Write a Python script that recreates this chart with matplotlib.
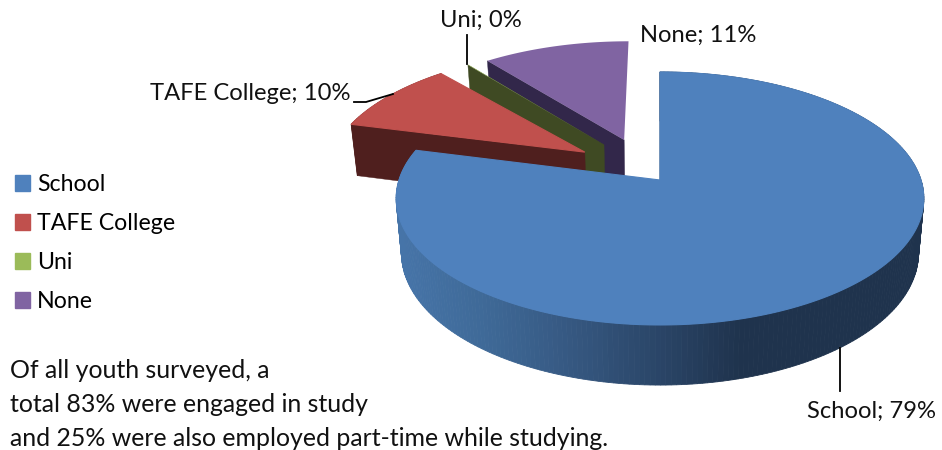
import numpy as np
import matplotlib
matplotlib.use("Agg")
import matplotlib.pyplot as plt
from matplotlib.colors import to_rgb
from matplotlib.patches import Patch

names = ["School", "TAFE College", "Uni", "None"]
shares = [79.0, 9.5, 0.05, 10.75]
# empty share in front of each slice, the drawn Uni slice starts a bit late
gaps = [0.0, 0.0, 0.7, 0.0]
top_colors = ["#4f81bd", "#c0504d", "#9bbb59", "#8064a2"]
wall_colors = ["#1f334d", "#4f1f1e", "#3f4a23", "#32274a"]
explode = [0.0, 0.378, 0.372, 0.369]
explode_dir = [0, 308, 323, 337]
note_lines = [
    "Of all youth surveyed, a",
    "total 83% were engaged in study",
    "and 25% were also employed part-time while studying.",
]

# pie geometry in pixels, fitted to the perspective of the 3d pie
X0, Y0 = 660, 180
RX, RY = 261, 123.8
K = 0.146
DEPTH = 53.8
BOTTOM_SCALE = 0.98

FONT = "Lato"
SIZE = 17.1


def project(u, v, bottom=False):
    w = 1 + K * v
    if bottom:
        return (
            X0 + BOTTOM_SCALE * RX * u / w,
            Y0 + DEPTH / w - BOTTOM_SCALE * RY * v / w,
        )
    return X0 + RX * u / w, Y0 - RY * v / w


def side_color(x):
    # the school wall gets darker from left to right
    stops = [400, 480, 560, 660, 740]
    left = ["#4674a8", "#3f6a98", "#375a84", "#2a4567", "#1f334d"]
    rgb = np.array([to_rgb(c) for c in left])
    return [np.interp(x, stops, rgb[:, i]) for i in range(3)]


def draw_slice(ax, start, end, offset, direction, top_color, wall_color,
               outer=False, gradient=False):
    u0 = offset * np.sin(np.radians(direction))
    v0 = offset * np.cos(np.radians(direction))
    t = np.radians(np.linspace(start, end, max(int(end - start), 4)))
    u = u0 + np.sin(t)
    v = v0 + np.cos(t)

    # radial wall on the leading edge
    x1, y1 = project(np.array([u0, u[0]]), np.array([v0, v[0]]))
    x2, y2 = project(np.array([u[0], u0]), np.array([v[0], v0]), bottom=True)
    ax.fill(np.r_[x1, x2], np.r_[y1, y2], color=wall_color, lw=0.3, zorder=1)

    # outer wall, one quad per step
    if outer:
        xt, yt = project(u, v)
        xb, yb = project(u, v, bottom=True)
        for i in range(len(t) - 1):
            color = side_color((xt[i] + xt[i + 1]) / 2) if gradient else wall_color
            ax.fill(
                [xt[i], xt[i + 1], xb[i + 1], xb[i]],
                [yt[i], yt[i + 1], yb[i + 1], yb[i]],
                color=color,
                lw=0.6,
                zorder=1,
            )

    ax.fill(
        *project(np.r_[u0, u], np.r_[v0, v]),
        color=top_color,
        lw=0.8 if outer else 0,
        zorder=1,
    )


def main():
    fig = plt.figure(figsize=(9.42, 4.5), dpi=100)
    ax = fig.add_axes([0, 0, 1, 1])
    ax.set_xlim(0, 942)
    ax.set_ylim(450, 0)
    ax.axis("off")

    ends = np.cumsum(np.array(shares) + np.array(gaps)) * 3.6
    starts = ends - np.array(shares) * 3.6

    # back slices first, the school slice sits in front of the others
    for i in [3, 2, 1, 0]:
        draw_slice(
            ax, starts[i], ends[i], explode[i], explode_dir[i],
            top_colors[i], wall_colors[i], outer=i < 2, gradient=i == 0,
        )

    # leader lines
    ax.plot([840, 840], [348, 391], color="k", lw=1.3, zorder=2)
    ax.plot([467, 467], [35, 64], color="k", lw=1.3, zorder=2)
    ax.plot([354, 366, 393], [102, 102, 94], color="k", lw=1.3, zorder=2)

    labels = [f"{n}; {round(s)}%" for n, s in zip(names, shares)]
    style = dict(family=FONT, color="#111111", va="center")
    ax.text(807, 411, labels[0], ha="left", fontsize=SIZE, **style)
    ax.text(350, 94, labels[1], ha="right", fontsize=SIZE, **style)
    ax.text(440, 20, labels[2], ha="left", fontsize=SIZE, **style)
    ax.text(640, 35, labels[3], ha="left", fontsize=SIZE, **style)

    handles = [Patch(color=c, label=n) for c, n in zip(top_colors, names)]
    ax.legend(
        handles=handles,
        loc="upper left",
        bbox_to_anchor=(15 / 942, 1 - 174 / 450),
        borderaxespad=0,
        borderpad=0,
        frameon=False,
        handlelength=0.65,
        handleheight=0.65,
        handletextpad=0.3,
        labelspacing=0.78,
        prop={"family": FONT, "size": 16.7},
    )

    for y, line in zip([370, 404, 438], note_lines):
        ax.text(10, y, line, ha="left", fontsize=17.9, **style)

    fig.savefig("out.png", dpi=100)


if __name__ == "__main__":
    main()
